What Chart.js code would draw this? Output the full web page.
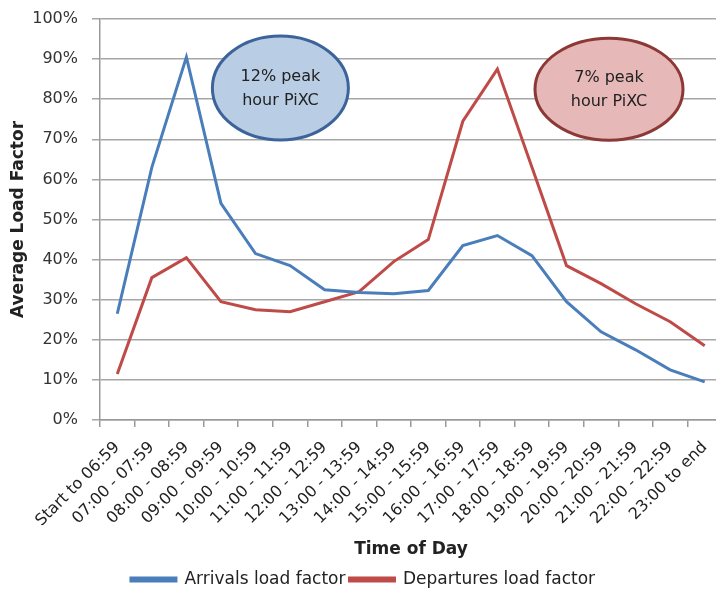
<!DOCTYPE html>
<html>
<head>
<meta charset="utf-8">
<script src="https://cdn.jsdelivr.net/npm/chart.js@4"></script>
<style>
  html, body { margin: 0; background: #fff; overflow: hidden; }
  #wrap { width: 722px; height: 591px; }
</style>
</head>
<body>
<div id="wrap"><canvas id="loadChart"></canvas></div>
<script>
const timeLabels = ['Start to 06:59', '07:00 - 07:59', '08:00 - 08:59', '09:00 - 09:59', '10:00 - 10:59',
    '11:00 - 11:59', '12:00 - 12:59', '13:00 - 13:59', '14:00 - 14:59', '15:00 - 15:59',
    '16:00 - 16:59', '17:00 - 17:59', '18:00 - 18:59', '19:00 - 19:59', '20:00 - 20:59',
    '21:00 - 21:59', '22:00 - 22:59', '23:00 to end'];
const arrivals = [26.5, 63, 90.5, 54, 41.5, 38.5, 32.5, 31.8, 31.5, 32.3, 43.5, 46, 41, 29.5, 22, 17.5, 12.5, 9.5];
const departures = [11.5, 35.5, 40.5, 29.5, 27.5, 27, 29.5, 32, 39.5, 45, 74.5, 87.5, 63, 38.5, 34, 29, 24.5, 18.5];
const yTicks = [0, 10, 20, 30, 40, 50, 60, 70, 80, 90, 100];

// the two "peak hour" bubbles, placed in axis units
const peakNotes = [
    { lines: ['12% peak', 'hour PiXC'], x: 4.72, y: 82.8, rx: 68, ry: 52, fill: '#b9cde5', stroke: '#3c639a' },
    { lines: ['7% peak', 'hour PiXC'], x: 14.23, y: 82.5, rx: 74, ry: 51, fill: '#e6b9b8', stroke: '#8c3836' }
];

const fontFamily = "'DejaVu Sans', sans-serif";

const bubblePlugin = {
    id: 'bubbles',
    afterDatasetsDraw(chart) {
        const ctx = chart.ctx;
        const xs = chart.scales.x, ys = chart.scales.y;
        peakNotes.forEach(n => {
            const cx = xs.getPixelForValue(n.x);
            const cy = ys.getPixelForValue(n.y);
            ctx.save();
            ctx.beginPath();
            ctx.ellipse(cx, cy, n.rx, n.ry, 0, 0, Math.PI * 2);
            ctx.fillStyle = n.fill;
            ctx.fill();
            ctx.lineWidth = 3;
            ctx.strokeStyle = n.stroke;
            ctx.stroke();
            ctx.fillStyle = '#222';
            ctx.font = '16px ' + fontFamily;
            ctx.textAlign = 'center';
            ctx.textBaseline = 'middle';
            ctx.fillText(n.lines[0], cx, cy - 11);
            ctx.fillText(n.lines[1], cx, cy + 13);
            ctx.restore();
        });
    }
};

const ctx = document.getElementById('loadChart').getContext('2d');
new Chart(ctx, {
    type: 'line',
    data: {
        labels: timeLabels,
        datasets: [{
            label: 'Arrivals load factor',
            data: arrivals,
            borderColor: '#4a7ebb',
            backgroundColor: '#4a7ebb',
            borderWidth: 3,
            pointRadius: 0,
            tension: 0
        }, {
            label: 'Departures load factor',
            data: departures,
            borderColor: '#be4b48',
            backgroundColor: '#be4b48',
            borderWidth: 3,
            pointRadius: 0,
            tension: 0
        }]
    },
    options: {
        responsive: true,
        maintainAspectRatio: false,
        animation: false,
        layout: { padding: { top: 19, left: 4, right: 0, bottom: -7 } },
        plugins: {
            legend: {
                position: 'bottom',
                labels: {
                    boxWidth: 45,
                    boxHeight: 3,
                    color: '#222',
                    font: { family: fontFamily, size: 17 },
                    padding: 4
                }
            },
            tooltip: { enabled: false }
        },
        scales: {
            x: {
                offset: true,
                afterFit: axis => {
                    axis.height = 147;
                    axis.paddingLeft = 0;
                    axis.paddingRight = 0;
                },
                grid: { offset: true, drawOnChartArea: false, tickLength: 7, color: '#999', lineWidth: 1.5 },
                border: { color: '#999', width: 1.5 },
                ticks: {
                    minRotation: 45, maxRotation: 45, autoSkip: false, padding: 11,
                    color: '#222', font: { family: fontFamily, size: 16 }
                },
                title: {
                    display: true, text: 'Time of Day', color: '#222',
                    padding: { top: 4, bottom: 7 },
                    font: { family: fontFamily, size: 17, weight: 'bold' }
                }
            },
            y: {
                min: 0, max: 100,
                afterFit: axis => {
                    axis.width = 96;
                    axis.paddingTop = 0;
                    axis.paddingBottom = 0;
                },
                afterBuildTicks: axis => { axis.ticks = yTicks.map(v => ({ value: v })); },
                grid: { color: '#a6a6a6', lineWidth: 1.5, tickLength: 8 },
                border: { color: '#999', width: 1.5 },
                ticks: {
                    color: '#333', padding: 14,
                    font: { family: fontFamily, size: 16 },
                    callback: v => v + '%'
                },
                title: {
                    display: true, text: 'Average Load Factor', color: '#222',
                    font: { family: fontFamily, size: 17, weight: 'bold' }
                }
            }
        }
    },
    plugins: [bubblePlugin]
});
</script>
</body>
</html>
